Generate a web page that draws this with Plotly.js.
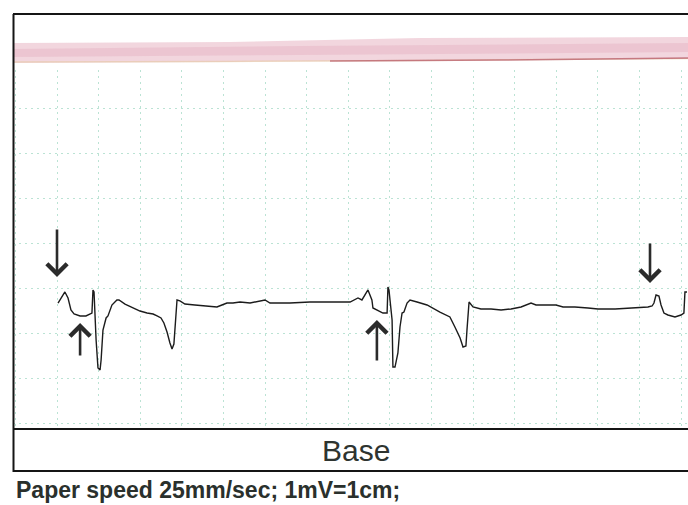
<!DOCTYPE html>
<html>
<head>
<meta charset="utf-8">
<script src="https://cdn.plot.ly/plotly-3.0.1.min.js"></script>
<style>
  html, body { margin: 0; padding: 0; background: #ffffff; overflow: hidden; }
  #strip { width: 688px; height: 505px; }
</style>
</head>
<body>
<div id="strip"></div>
<script>
// Lead trace: time in seconds, amplitude in mV (25 mm/s, 1 mV = 1 cm)
const timeSec = [
  0.205, 0.219, 0.238, 0.253, 0.267, 0.282, 0.311, 0.339, 0.359, 0.368,
  0.373, 0.378, 0.388, 0.397, 0.407, 0.412, 0.421, 0.436, 0.445, 0.464,
  0.488, 0.498, 0.527, 0.565, 0.599, 0.633, 0.662, 0.681, 0.700, 0.714,
  0.729, 0.743, 0.753, 0.762, 0.767, 0.772, 0.777, 0.791, 0.815, 0.863,
  0.912, 0.969, 0.993, 1.017, 1.046, 1.080,
  1.128, 1.200, 1.224, 1.320, 1.416, 1.513, 1.609, 1.647, 1.666, 1.695,
  1.714, 1.719, 1.738, 1.767, 1.787, 1.791, 1.796, 1.811, 1.815, 1.825,
  1.839, 1.849, 1.859, 1.868, 1.883, 1.897, 1.931, 1.979, 2.041, 2.089,
  2.113, 2.138, 2.152, 2.166, 2.171, 2.181, 2.200, 2.238, 2.287, 2.335,
  2.383, 2.431, 2.479, 2.503, 2.561, 2.599, 2.633, 2.690, 2.753, 2.801,
  2.883, 2.960, 3.017, 3.041, 3.061, 3.070, 3.080, 3.094, 3.104, 3.118,
  3.137, 3.171, 3.200, 3.214, 3.219, 3.229
];
const leadMv = [
  -0.167, -0.111, -0.044, -0.111, -0.244, -0.289, -0.311, -0.311, -0.289, -0.278,
  -0.022, -0.044, -0.578, -0.889, -0.911, -0.800, -0.467, -0.333, -0.311, -0.189,
  -0.133, -0.133, -0.178, -0.222, -0.256, -0.278, -0.289, -0.311, -0.333, -0.389,
  -0.489, -0.611, -0.678, -0.622, -0.411, -0.244, -0.133, -0.144, -0.178, -0.189,
  -0.200, -0.211, -0.189, -0.167, -0.167, -0.156,
  -0.167, -0.133, -0.167, -0.167, -0.156, -0.156, -0.156, -0.111, -0.133, -0.022,
  -0.133, -0.222, -0.244, -0.278, -0.278, 0.011, -0.022, -0.356, -0.878, -0.878,
  -0.722, -0.433, -0.278, -0.267, -0.167, -0.133, -0.156, -0.189, -0.267, -0.322,
  -0.433, -0.556, -0.656, -0.644, -0.467, -0.156, -0.211, -0.233, -0.233, -0.244,
  -0.233, -0.211, -0.167, -0.189, -0.189, -0.189, -0.211, -0.211, -0.222, -0.233,
  -0.233, -0.222, -0.222, -0.211, -0.200, -0.167, -0.078, -0.089, -0.189, -0.278,
  -0.300, -0.322, -0.300, -0.278, -0.044, -0.044
];

// Hand-drawn beat markers: time, tip amplitude, tail amplitude (mV)
const markTimes  = [0.200, 0.311, 1.738, 3.051];
const markTipMv  = [0.122, -0.389, -0.356, 0.056];
const markTailMv = [0.667, -0.767, -0.822, 0.511];

const stripLabel = 'Base';
const footerText = 'Paper speed 25mm/sec; 1mV=1cm;';

// Plot area spans the grid region of the strip; frame and header sit outside it in paper units.
const W = 688, H = 505;
const plotL = 13, plotR = 688, plotT = 70, plotB = 428;
const px = v => (v - plotL) / (plotR - plotL);
const py = v => (plotB - v) / (plotB - plotT);

const ink = '#1c1c1c';
const frameLine = { color: '#151515', width: 2 };

const shapes = [
  // header band
  {
    type: 'path', xref: 'paper', yref: 'paper', layer: 'above',
    path: `M ${px(13)},${py(43)} L ${px(230)},${py(42)} L ${px(420)},${py(38)} L ${px(688)},${py(37)}
           L ${px(688)},${py(59)} L ${px(420)},${py(61)} L ${px(230)},${py(62)} L ${px(13)},${py(63)} Z`,
    fillcolor: 'rgba(232,180,194,0.55)', line: { width: 0 }
  },
  {
    type: 'path', xref: 'paper', yref: 'paper', layer: 'above',
    path: `M ${px(13)},${py(49)} L ${px(300)},${py(46)} L ${px(688)},${py(43)}
           L ${px(688)},${py(52)} L ${px(300)},${py(55)} L ${px(13)},${py(57)} Z`,
    fillcolor: 'rgba(205,110,140,0.16)', line: { width: 0 }
  },
  {
    type: 'path', xref: 'paper', yref: 'paper', layer: 'above',
    path: `M ${px(13)},${py(62)} L ${px(230)},${py(61.5)} L ${px(420)},${py(60.5)} L ${px(688)},${py(58.5)}`,
    line: { color: 'rgba(220,190,120,0.35)', width: 1.5 }
  },
  {
    type: 'path', xref: 'paper', yref: 'paper', layer: 'above',
    path: `M ${px(330)},${py(61)} L ${px(500)},${py(60)} L ${px(688)},${py(58)}`,
    line: { color: 'rgba(160,35,65,0.5)', width: 1.5 }
  },
  // outer frame
  { type: 'line', xref: 'paper', yref: 'paper', x0: px(13), x1: px(688), y0: py(14), y1: py(14), line: frameLine },
  { type: 'line', xref: 'paper', yref: 'paper', x0: px(13.5), x1: px(13.5), y0: py(14), y1: py(472), line: frameLine },
  { type: 'line', xref: 'paper', yref: 'paper', x0: px(13), x1: px(688), y0: py(429), y1: py(429), line: frameLine },
  { type: 'line', xref: 'paper', yref: 'paper', x0: px(13), x1: px(688), y0: py(471), y1: py(471), line: frameLine }
];

const annotations = markTimes.map((t, i) => ({
  x: t, y: markTipMv[i], ax: t, ay: markTailMv[i],
  xref: 'x', yref: 'y', axref: 'x', ayref: 'y',
  showarrow: true, arrowhead: 4, arrowsize: 1.5, arrowwidth: 2.6,
  arrowcolor: '#2b2b2b', text: ''
}));

annotations.push({
  xref: 'paper', yref: 'paper', x: px(356), y: py(451),
  text: stripLabel, showarrow: false, xanchor: 'center', yanchor: 'middle',
  font: { family: 'Liberation Sans, Arial, sans-serif', size: 30, color: '#2e3430' }
});
annotations.push({
  xref: 'paper', yref: 'paper', x: px(14), y: py(490),
  text: '<b>' + footerText + '</b>', showarrow: false, xanchor: 'left', yanchor: 'middle',
  font: { family: 'Liberation Sans, Arial, sans-serif', size: 23, color: '#2a302c' }
});

const gridStyle = {
  showgrid: true, gridcolor: 'rgba(120,200,170,0.5)', gridwidth: 1, griddash: '2px,4px',
  zeroline: false, showline: false, showticklabels: false, ticks: '', fixedrange: true
};

const trace = {
  type: 'scatter', mode: 'lines',
  x: timeSec, y: leadMv,
  line: { color: ink, width: 1.4 },
  hoverinfo: 'skip'
};

const layout = {
  width: W, height: H,
  margin: { l: plotL, r: W - plotR, t: plotT, b: H - plotB, pad: 0 },
  paper_bgcolor: '#ffffff', plot_bgcolor: '#ffffff',
  showlegend: false,
  xaxis: Object.assign({ range: [(plotL - 15.4) / 208, (plotR - 15.4) / 208], tick0: 0, dtick: 0.2 }, gridStyle),
  yaxis: Object.assign({ range: [(288 - plotB) / 90, (288 - plotT) / 90], tick0: 0, dtick: 0.5 }, gridStyle),
  shapes: shapes,
  annotations: annotations
};

Plotly.newPlot('strip', [trace], layout, { staticPlot: true, displayModeBar: false });
</script>
</body>
</html>
